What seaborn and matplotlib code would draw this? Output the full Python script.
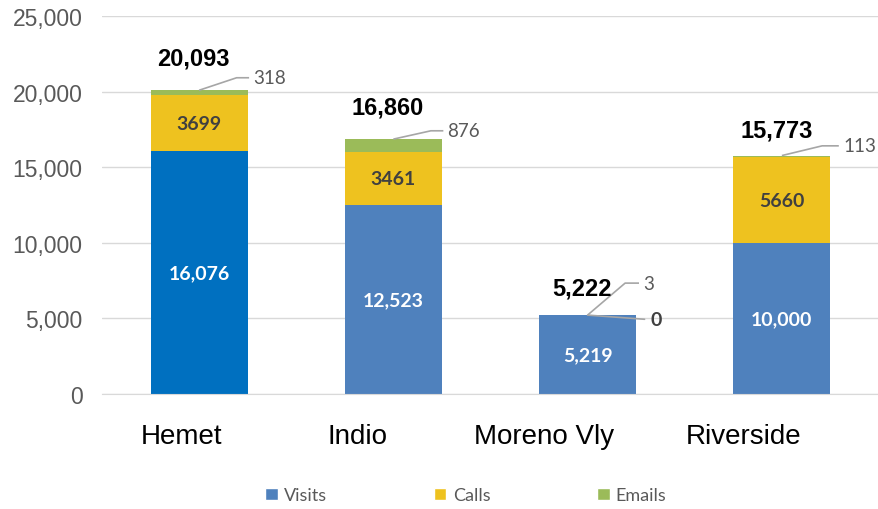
import numpy as np
import pandas as pd
import matplotlib
matplotlib.use('Agg')
import matplotlib.pyplot as plt
import matplotlib.transforms as mtransforms
import seaborn as sns
from matplotlib.patches import Patch

offices = ['Hemet', 'Indio', 'Moreno Vly', 'Riverside']
visits = [16076, 12523, 5219, 10000]
calls = [3699, 3461, 0, 5660]
emails = [318, 876, 3, 113]
visit_labels = ['16,076', '12,523', '5,219', '10,000']

blue = '#4F81BD'
blue_dark = '#0070C0'
yellow = '#EEC21F'
green = '#9BBB59'
grey = '#595959'

df = pd.DataFrame({'office': offices, 'visits': visits, 'calls': calls, 'emails': emails})
df['vc'] = df['visits'] + df['calls']
df['total'] = df['vc'] + df['emails']

sns.set_style('white')
plt.rcParams['font.family'] = ['Liberation Sans', 'DejaVu Sans']

fig = plt.figure(figsize=(8.79, 5.10), dpi=100)
ax = fig.add_axes([0.116, 0.2255, 0.884, 0.741])

# stacked bars: draw cumulative totals back to front
sns.barplot(data=df, x='office', y='total', color=green, width=0.5, ax=ax,
            edgecolor='none', linewidth=0, saturation=1)
sns.barplot(data=df, x='office', y='vc', color=yellow, width=0.5, ax=ax,
            edgecolor='none', linewidth=0, saturation=1)
sns.barplot(data=df, x='office', y='visits', hue='office', legend=False,
            palette=[blue_dark, blue, blue, blue], width=0.5, ax=ax,
            edgecolor='none', linewidth=0, saturation=1)

ax.set_ylim(0, 25000)
ax.set_xlim(-0.5, 3.5)
ax.set_yticks(np.arange(0, 25001, 5000))
ax.yaxis.set_major_formatter(matplotlib.ticker.FuncFormatter(lambda v, p: f'{int(v):,}'))
ax.grid(axis='y', color='#D9D9D9', linewidth=1)
ax.set_axisbelow(True)
for s in ['left', 'right', 'top']:
    ax.spines[s].set_visible(False)
ax.spines['bottom'].set_color('#D9D9D9')
ax.tick_params(axis='y', length=0, pad=14, labelsize=16.5, labelcolor=grey)
ax.tick_params(axis='x', length=0, pad=21, labelsize=20, labelcolor='black')
ax.set_xlabel('')
ax.set_ylabel('')

# category labels sit a bit left of the bar centres in the original
label_shift = [-18, -36, -44, -38]
for lbl, dx in zip(ax.get_xticklabels(), label_shift):
    lbl.set_transform(lbl.get_transform() + mtransforms.ScaledTranslation(dx / 100, 0, fig.dpi_scale_trans))

seg_font = ['Lato', 'DejaVu Sans']
for i, row in df.iterrows():
    ax.text(i, row['visits'] / 2, visit_labels[i], ha='center', va='center',
            color='white', fontsize=14, fontweight='bold', family=seg_font)
    if row['calls'] > 0:
        ax.text(i, row['visits'] + row['calls'] / 2, f"{row['calls']}", ha='center',
                va='center', color='#404040', fontsize=14, fontweight='bold', family=seg_font)

# total labels above the bars
total_offsets = [15, 15, 11, 10]
for i, row in df.iterrows():
    ax.annotate(f"{row['total']:,}", (i, row['total']), xytext=(-4, total_offsets[i]),
                textcoords='offset points', ha='center', va='bottom', fontsize=17,
                fontweight='bold', color='black')

# email labels with leader lines (offsets in points)
email_elbow = [(27, 9), (27, 6), (27, 23), (29, 7)]
email_end = [36, 36, 37, 41]
scale = fig.dpi / 72
for i, row in df.iterrows():
    x0, y0 = i, row['total']
    ex, ey = email_elbow[i]
    pts = ax.transData.transform([(x0, y0)])[0]
    line_px = [(pts[0], pts[1]),
               (pts[0] + ex * scale, pts[1] + ey * scale),
               (pts[0] + email_end[i] * scale, pts[1] + ey * scale)]
    line_data = ax.transData.inverted().transform(line_px)
    ax.plot(line_data[:, 0], line_data[:, 1], color='#A6A6A6', linewidth=1.2,
            solid_capstyle='butt', clip_on=False)
    ax.annotate(f"{row['emails']}", (x0, y0), xytext=(email_end[i] + 3, ey),
                textcoords='offset points', ha='left', va='center', fontsize=13.5,
                color=grey, family=seg_font)

# zero-calls label for Moreno Vly
j = offices.index('Moreno Vly')
pts = ax.transData.transform([(j, df.loc[j, 'visits'])])[0]
seg = ax.transData.inverted().transform([(pts[0], pts[1]), (pts[0] + 41 * scale, pts[1] - 3 * scale)])
ax.plot(seg[:, 0], seg[:, 1], color='#A6A6A6', linewidth=1.2, clip_on=False)
ax.annotate('0', (j, df.loc[j, 'visits']), xytext=(45, -3), textcoords='offset points',
            ha='left', va='center', fontsize=14, fontweight='bold', color='#404040',
            family=seg_font)

handles = [Patch(facecolor=blue, label='Visits'),
           Patch(facecolor=yellow, label='Calls'),
           Patch(facecolor=green, label='Emails')]
leg = fig.legend(handles=handles, loc='center', bbox_to_anchor=(0.53, 0.027), ncol=3,
                 frameon=False, handlelength=0.7, handleheight=0.7,
                 handletextpad=0.35, columnspacing=5.9, labelcolor=grey,
                 prop={'family': seg_font, 'size': 13})

fig.savefig('out.png', dpi=100)
